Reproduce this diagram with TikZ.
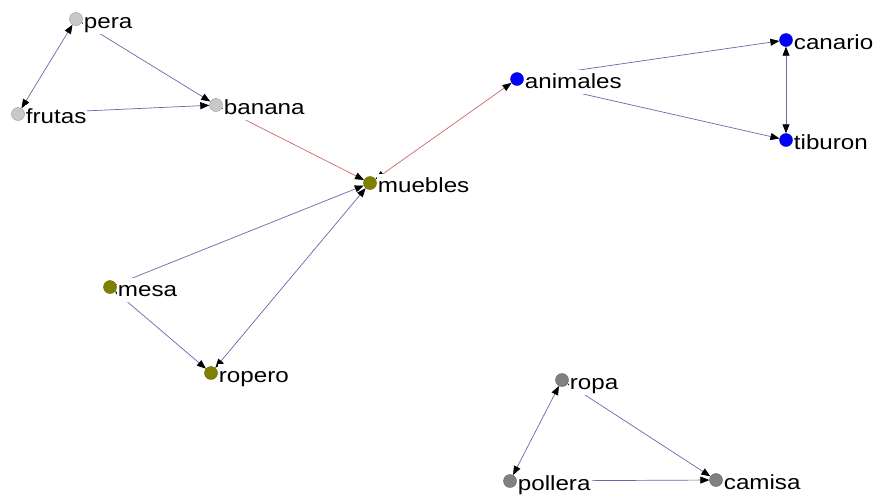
\documentclass[tikz,border=0pt]{standalone}
\usepackage{fontspec}
\setmainfont[FakeStretch=1.18]{Liberation Sans}
\usetikzlibrary{positioning, arrows.meta}

\definecolor{edgeblue}{RGB}{104,104,172}
\definecolor{edgered}{RGB}{204,104,104}
\definecolor{fruitgray}{RGB}{200,200,200}
\definecolor{woodolive}{RGB}{128,128,0}
\definecolor{petblue}{RGB}{0,0,255}
\definecolor{clothgray}{RGB}{128,128,128}

\begin{document}
\begin{tikzpicture}[
  x=1pt, y=-1pt, font=\fontsize{20.5}{21}\selectfont,
  >={Triangle[length=9pt, width=7pt, color=black]},
  dot/.style={circle, draw=#1!75!black, fill=#1, minimum size=13pt, inner sep=0pt},
  tag/.style={right=0pt of #1, yshift=-3pt, fill=white, inner sep=1pt, text height=17pt, text depth=5pt},
  link/.style={<->, draw=edgeblue, line width=0.7pt},
  hotlink/.style={<->, draw=edgered, line width=0.7pt}
]
\useasboundingbox (0,0) rectangle (882,496);

\node[dot=fruitgray] (pera) at (76,19) {};
\node[dot=fruitgray] (frutas) at (18,114) {};
\node[dot=fruitgray] (banana) at (216,105) {};
\node[dot=woodolive] (muebles) at (370,183) {};
\node[dot=woodolive] (mesa) at (110,287) {};
\node[dot=woodolive] (ropero) at (211,373) {};
\node[dot=petblue] (animales) at (517,79) {};
\node[dot=petblue] (canario) at (786,40) {};
\node[dot=petblue] (tiburon) at (786,140) {};
\node[dot=clothgray] (ropa) at (562,380) {};
\node[dot=clothgray] (pollera) at (510,481) {};
\node[dot=clothgray] (camisa) at (716,480) {};

\draw[link] (pera) -- (frutas);
\draw[link] (pera) -- (banana);
\draw[link] (frutas) -- (banana);
\draw[hotlink] (banana) -- (muebles);
\draw[hotlink] (muebles) -- (animales);
\draw[link] (mesa) -- (muebles);
\draw[link] (ropero) -- (muebles);
\draw[link] (mesa) -- (ropero);
\draw[link] (animales) -- (canario);
\draw[link] (animales) -- (tiburon);
\draw[link] (canario) -- (tiburon);
\draw[link] (ropa) -- (pollera);
\draw[link] (ropa) -- (camisa);
\draw[link] (pollera) -- (camisa);

\node[tag=pera] (tpera) {pera};
\node[tag=frutas] (tfrutas) {frutas};
\node[tag=banana] (tbanana) {banana};
\node[tag=muebles] (tmuebles) {muebles};
\node[tag=mesa] (tmesa) {mesa};
\node[tag=ropero] (tropero) {ropero};
\node[tag=animales] (tanimales) {animales};
\node[tag=canario] (tcanario) {canario};
\node[tag=tiburon] (ttiburon) {tiburon};
\node[tag=ropa] (tropa) {ropa};
\node[tag=pollera] (tpollera) {pollera};
\node[tag=camisa] (tcamisa) {camisa};

\end{tikzpicture}
\end{document}
